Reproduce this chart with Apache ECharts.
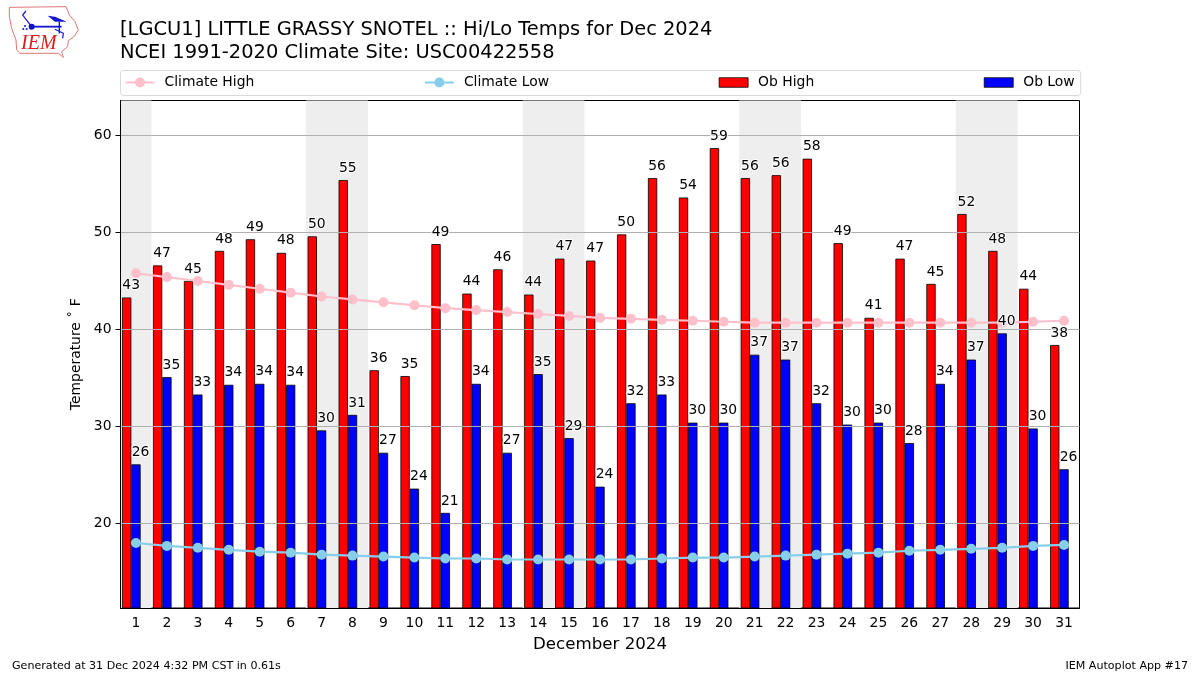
<!DOCTYPE html>
<html>
<head>
<meta charset="utf-8">
<style>html,body{margin:0;padding:0;background:#fff}#c{width:1200px;height:675px}</style>
<script src="https://cdn.jsdelivr.net/npm/echarts@6/dist/echarts.min.js"></script>
</head>
<body>
<div id="c"></div>
<script>
const days = ['1','2','3','4','5','6','7','8','9','10','11','12','13','14','15','16','17','18','19','20','21','22','23','24','25','26','27','28','29','30','31'];
const obHigh = [43.3,46.6,45.0,48.1,49.3,47.9,49.6,55.4,35.8,35.2,48.8,43.7,46.2,43.6,47.3,47.1,49.8,55.6,53.6,58.7,55.6,55.9,57.6,48.9,41.2,47.3,44.7,51.9,48.1,44.2,38.4];
const obLow = [26.1,35.1,33.3,34.3,34.4,34.3,29.6,31.2,27.3,23.6,21.1,34.4,27.3,35.4,28.8,23.8,32.4,33.3,30.4,30.4,37.4,36.9,32.4,30.2,30.4,28.3,34.4,36.9,39.6,29.8,25.6];
const climateHigh = [45.8,45.4,45.0,44.6,44.2,43.8,43.4,43.1,42.8,42.5,42.2,42.0,41.8,41.6,41.4,41.2,41.1,41.0,40.9,40.8,40.7,40.7,40.7,40.7,40.7,40.7,40.7,40.7,40.7,40.8,40.9];
const climateLow = [18.0,17.7,17.5,17.3,17.1,17.0,16.8,16.7,16.6,16.5,16.4,16.4,16.3,16.3,16.3,16.3,16.3,16.4,16.5,16.5,16.6,16.7,16.8,16.9,17.0,17.2,17.3,17.4,17.5,17.7,17.8];
const weekendBands = [[0.5,1.5],[6.5,8.5],[13.5,15.5],[20.5,22.5],[27.5,29.5]];
const yTicks = [20,30,40,50,60];
const titleText = '[LGCU1] LITTLE GRASSY SNOTEL :: Hi/Lo Temps for Dec 2024\nNCEI 1991-2020 Climate Site: USC00422558';
const footerLeft = 'Generated at 31 Dec 2024 4:32 PM CST in 0.61s';
const footerRight = 'IEM Autoplot App #17';
const xName = 'December 2024';
const yName = 'Temperature ˚ F';

const FONT = '"DejaVu Sans"';
const barLabel = {
  show: true, position: 'top', distance: 5, offset: [4.5, 0],
  formatter: p => Math.round(p.value),
  fontFamily: FONT, fontSize: 13.9, color: '#000',
  textBorderColor: '#fff', textBorderWidth: 2
};
const blank = {color: 'rgba(0,0,0,0)', borderWidth: 0};
const legendBar = 'path://M0,0M29,12.5M0,1.5H29V11H0Z';
const p3 = (x, y) => [x/3, y/3];
const outline = [[28,22],[198,20],[208,45],[225,65],[235,90],[222,110],[205,122],[203,140],[185,155],[190,172],[175,160],[60,160],[50,150],[48,120],[35,85],[28,50],[28,22]].map(p => p3(p[0], p[1]));
const logoBlue = '#1515d0';

const chart = echarts.init(document.getElementById('c'), null, {renderer: 'canvas'});
chart.setOption({
  animation: false,
  backgroundColor: '#fff',
  textStyle: {fontFamily: FONT},
  title: [
    {text: titleText, left: 120, top: 19, padding: 0,
     textStyle: {fontFamily: FONT, fontSize: 19.44, fontWeight: 'normal', color: '#000', lineHeight: 22.5}},
    {text: footerLeft, left: 12, top: 661, padding: 0,
     textStyle: {fontFamily: FONT, fontSize: 11.1, fontWeight: 'normal', color: '#000'}},
    {text: footerRight, right: 12, top: 661, padding: 0,
     textStyle: {fontFamily: FONT, fontSize: 11.1, fontWeight: 'normal', color: '#000'}}
  ],
  legend: {
    left: 120.5, top: 70.5,
    padding: [5, 6, 6, 4],
    itemGap: 169.6, itemWidth: 29, itemHeight: 12.5,
    borderColor: '#d9d9d9', borderWidth: 1, borderRadius: 3,
    textStyle: {fontFamily: FONT, fontSize: 13.9, color: '#000', padding: [0,0,0,5]},
    data: [
      {name: 'Climate High'},
      {name: 'Climate Low'},
      {name: 'Ob High', icon: legendBar, itemStyle: {borderWidth: 0.8, borderColor: '#000'}},
      {name: 'Ob Low', icon: legendBar, itemStyle: {borderWidth: 0.8, borderColor: '#000'}}
    ]
  },
  grid: {left: 120.5, right: 120.5, top: 100.5, bottom: 67, show: true, borderColor: '#000', borderWidth: 1, backgroundColor: '#fff'},
  xAxis: [
    {type: 'category', data: days, name: xName, nameLocation: 'middle', nameGap: 28,
     nameTextStyle: {fontFamily: FONT, fontSize: 16.67, color: '#000'},
     axisLine: {lineStyle: {color: '#000'}},
     axisTick: {alignWithLabel: true, length: 5, lineStyle: {color: '#000'}},
     axisLabel: {interval: 0, fontFamily: FONT, fontSize: 13.9, color: '#000', margin: 8},
     splitLine: {show: false}},
    {type: 'value', min: 0.5, max: 31.5, show: false},
    {type: 'category', data: days, show: false}
  ],
  yAxis: {
    type: 'value', min: 11.3, max: 63.6, z: 3,
    name: yName, nameLocation: 'middle', nameGap: 37,
    nameTextStyle: {fontFamily: FONT, fontSize: 13.9, color: '#000'},
    axisLine: {show: true, lineStyle: {color: '#000'}},
    axisTick: {show: true, length: 5, lineStyle: {color: '#000'}, customValues: yTicks},
    axisLabel: {fontFamily: FONT, fontSize: 13.9, color: '#000', margin: 9, customValues: yTicks},
    splitLine: {show: true, lineStyle: {color: '#b0b0b0', width: 1}}
  },
  series: [
    {name: 'bands', type: 'line', xAxisIndex: 1, data: [], z: 1, silent: true,
     markArea: {silent: true, z: 1, itemStyle: {color: '#eeeeee'},
       data: weekendBands.map(b => [{xAxis: b[0]}, {xAxis: b[1]}])}},
    {name: 'Ob High', type: 'bar', data: obHigh, barWidth: 9.29, barGap: 0, z: 2, silent: true,
     itemStyle: {color: '#ff0000', borderColor: '#000', borderWidth: 0.8}},
    {name: 'Ob Low', type: 'bar', data: obLow, barWidth: 9.29, barGap: 0, z: 2, silent: true,
     itemStyle: {color: '#0000ff', borderColor: '#000', borderWidth: 0.8}},
    {name: 'spacer', type: 'bar', data: [], barWidth: 9.29, barGap: 0, silent: true},
    {name: 'Climate High', type: 'line', data: climateHigh, z: 4, silent: true,
     symbol: 'circle', symbolSize: 10, showAllSymbol: true,
     lineStyle: {color: '#ffc0cb', width: 2.2}, itemStyle: {color: '#ffc0cb'}},
    {name: 'Climate Low', type: 'line', data: climateLow, z: 4, silent: true,
     symbol: 'circle', symbolSize: 10, showAllSymbol: true,
     lineStyle: {color: '#87ceeb', width: 2.2}, itemStyle: {color: '#87ceeb'}},
    {name: 'high labels', type: 'bar', xAxisIndex: 2, data: obHigh, barWidth: 9.29, barGap: 0, z: 6, silent: true,
     itemStyle: blank, label: barLabel},
    {name: 'low labels', type: 'bar', xAxisIndex: 2, data: obLow, barWidth: 9.29, barGap: 0, z: 6, silent: true,
     itemStyle: blank, label: barLabel},
    {name: 'label spacer', type: 'bar', xAxisIndex: 2, data: [], barWidth: 9.29, barGap: 0, silent: true}
  ],
  graphic: [
    {type: 'polyline', shape: {points: outline}, style: {stroke: '#dd7777', fill: 'none', lineWidth: 1}},
    {type: 'text', left: 21, top: 34, style: {text: 'IEM', fontFamily: '"Liberation Serif"', fontStyle: 'italic', fontSize: 20, fill: '#d81e1e'}},
    {type: 'polyline', shape: {points: [p3(95,80), p3(185,80)]}, style: {stroke: logoBlue, fill: 'none', lineWidth: 1.8}},
    {type: 'polyline', shape: {points: [p3(95,80), p3(68,45), p3(78,33)]}, style: {stroke: logoBlue, fill: 'none', lineWidth: 1.2}},
    {type: 'polyline', shape: {points: [p3(178,65), p3(178,100)]}, style: {stroke: logoBlue, fill: 'none', lineWidth: 1.4}},
    {type: 'polyline', shape: {points: [p3(165,88), p3(190,100), p3(188,115)]}, style: {stroke: logoBlue, fill: 'none', lineWidth: 1.2}},
    {type: 'circle', shape: {cx: 95/3, cy: 80/3, r: 3}, style: {fill: '#1010c8'}},
    {type: 'polygon', shape: {points: [p3(143,47), p3(165,50), p3(200,65), p3(165,65)]}, style: {fill: logoBlue}},
    {type: 'circle', shape: {cx: 75/3, cy: 78/3, r: 1}, style: {fill: logoBlue}},
    {type: 'circle', shape: {cx: 70/3, cy: 87/3, r: 1}, style: {fill: logoBlue}},
    {type: 'circle', shape: {cx: 80/3, cy: 87/3, r: 1}, style: {fill: logoBlue}}
  ]
});
</script>
</body>
</html>
